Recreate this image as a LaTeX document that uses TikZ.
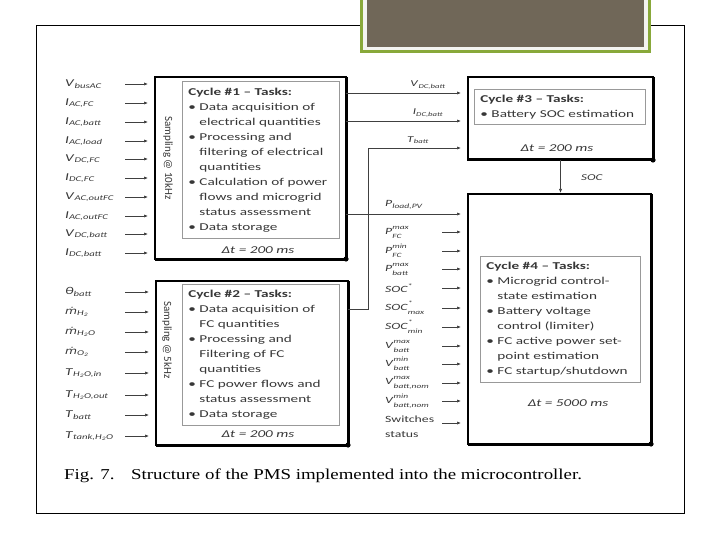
\documentclass[tikz,border=0pt]{standalone}
\usepackage{fontspec}
\setmainfont{Carlito}[FakeStretch=1.45]
\newfontfamily\rotfont{Carlito}
\newfontfamily\capfont{Liberation Serif}[FakeStretch=1.25]
\newfontfamily\dvfont{DejaVu Sans}[FakeStretch=1.3]
\usetikzlibrary{arrows.meta,positioning,calc}
\definecolor{slidebrown}{RGB}{112,103,88}
\definecolor{slidegreen}{RGB}{136,168,58}
\definecolor{slidegap}{RGB}{243,243,240}
\definecolor{inkgray}{RGB}{55,55,55}
% signal names
\newcommand\sig[2]{\textit{#1}\textsubscript{\itshape #2}}
\newcommand\sigud[3]{\textit{#1}\makebox[0pt][l]{\fontsize{6.5}{7}\selectfont\itshape\raisebox{0.78em}{#2}}%
  \raisebox{-0.42em}{\fontsize{6.5}{7}\selectfont\itshape #3}}
\newcommand\mdot{{\dvfont\fontsize{9.5}{12}\selectfont\itshape ṁ}}
\newcommand\tnl{\\\hphantom{\textbullet\ }}

\begin{document}
\begin{tikzpicture}[x=1pt,y=-1pt,
  cycbox/.style={draw=black, line width=2pt, anchor=north west, inner sep=0pt, outer sep=0pt},
  taskbox/.style={draw=black!40, line width=0.8pt, fill=white, anchor=north west, align=left,
    inner xsep=6pt, inner ysep=0pt, font=\fontsize{10.5}{15}\selectfont, text=inkgray},
  dtlbl/.style={font=\fontsize{10.5}{12}\selectfont\itshape, text=inkgray},
  samp/.style={rotate=-90, font=\rotfont\fontsize{11}{13}\selectfont, text=inkgray},
  sig/.style={anchor=west, inner sep=0pt, font=\fontsize{10.5}{12}\selectfont, text=inkgray},
  smsig/.style={anchor=west, inner sep=0pt, font=\fontsize{9.5}{15}\selectfont, text=inkgray},
  tinysig/.style={inner sep=0pt, font=\fontsize{9}{11}\selectfont, text=inkgray},
  inarr/.style={-{Latex[length=4pt,width=3.2pt]}, line width=0.7pt, black!75, shorten >=7pt}]
\useasboundingbox (0,0) rectangle (720,540);
% slide frame and title bar
\draw[line width=1pt] (36,26) rectangle (684,513);
\fill[slidegap] (361,0) rectangle (649,52);
\draw[slidegreen, line width=3pt] (361,0) -- (361,52) -- (649,52) -- (649,0);
\fill[slidebrown] (367,0) rectangle (644,47);

% cycle boxes
\node[cycbox, minimum width=191pt, minimum height=182pt] (cyc1) at (155,77) {};
\node[cycbox, minimum width=192pt, minimum height=164pt] (cyc2) at (156,281) {};
\node[cycbox, minimum width=185pt, minimum height=83pt] (cyc3) at (468,77) {};
\node[cycbox, minimum width=183pt, minimum height=250pt] (cyc4) at (468,194) {};
\foreach \c in {cyc1,cyc2,cyc3,cyc4} {
  \draw[line width=3pt] (\c.north east) -- (\c.south east) -- (\c.south west);
  \fill (\c.south east) circle (2.6pt);
}

% task lists
\node[taskbox, text width=145pt, minimum height=157pt] (task1) at (182,81) {%
  \textbf{Cycle \#1 -- Tasks:}\\
  \textbullet\ Data acquisition of\tnl electrical quantities\\
  \textbullet\ Processing and\tnl filtering of electrical\tnl quantities\\
  \textbullet\ Calculation of power\tnl flows and microgrid\tnl status assessment\\
  \textbullet\ Data storage};
\node[taskbox, text width=145pt, minimum height=141pt] (task2) at (182,284) {%
  \textbf{Cycle \#2 -- Tasks:}\\
  \textbullet\ Data acquisition of\tnl FC quantities\\
  \textbullet\ Processing and\tnl Filtering of FC\tnl quantities\\
  \textbullet\ FC power flows and\tnl status assessment\\
  \textbullet\ Data storage};
\node[taskbox, text width=159pt, minimum height=35pt] (task3) at (474,89) {%
  \textbf{Cycle \#3 -- Tasks:}\\
  \textbullet\ Battery SOC estimation};
\node[taskbox, text width=148pt, minimum height=126pt] (task4) at (480,256) {%
  \textbf{Cycle \#4 -- Tasks:}\\
  \textbullet\ Microgrid control-\tnl state estimation\\
  \textbullet\ Battery voltage\tnl control (limiter)\\
  \textbullet\ FC active power set-\tnl point estimation\\
  \textbullet\ FC startup/shutdown};

\node[dtlbl] (dt1) at (258,250) {Δt = 200 ms};
\node[dtlbl] (dt2) at (258,434) {Δt = 200 ms};
\node[dtlbl] (dt3) at (557,148) {Δt = 200 ms};
\node[dtlbl] (dt4) at (568,403) {Δt = 5000 ms};
\node[samp] (samp1) at (168,158) {Sampling @ 10kHz};
\node[samp] (samp2) at (167,340) {Sampling @ 5kHz};

% inputs of cycle 1
\foreach \y/\lbl [count=\i] in {84/{\sig{V}{busAC}}, 103/{\sig{I}{AC,FC}}, 122/{\sig{I}{AC,batt}},
    141/{\sig{I}{AC,load}}, 159/{\sig{V}{DC,FC}}, 178/{\sig{I}{DC,FC}}, 197/{\sig{V}{AC,outFC}},
    216/{\sig{I}{AC,outFC}}, 234/{\sig{V}{DC,batt}}, 253/{\sig{I}{DC,batt}}} {
  \node[sig] (ina\i) at (65,\y) {\lbl};
  \coordinate (pa\i) at (125,\y);
  \draw[inarr] (pa\i) -- (pa\i -| cyc1.west);
}
% inputs of cycle 2
\foreach \y/\lbl [count=\i] in {292/{\textit{θ}\textsubscript{\itshape batt}},
    312/{\mdot\textsubscript{\itshape H\textsubscript{2}}}, 332/{\mdot\textsubscript{\itshape H\textsubscript{2}O}},
    352/{\mdot\textsubscript{\itshape O\textsubscript{2}}}, 373/{\sig{T}{H\textsubscript{2}O,in}},
    395/{\sig{T}{H\textsubscript{2}O,out}}, 415/{\sig{T}{batt}}, 436/{\sig{T}{tank,H\textsubscript{2}O}}} {
  \node[sig] (inb\i) at (65,\y) {\lbl};
  \coordinate (pb\i) at (125,\y);
  \draw[inarr] (pb\i) -- (pb\i -| cyc2.west);
}

% cycle 1/2 -> cycle 3
\coordinate (ov) at (346,93);
\coordinate (oi) at (346,121);
\coordinate (tbo) at (348,309);
\coordinate (tbk) at (368,148);
\draw[inarr] (ov) -- (ov -| cyc3.west);
\draw[inarr] (oi) -- (oi -| cyc3.west);
\draw[inarr] (tbo) -| (tbk) -- (tbk -| cyc3.west);
\node[tinysig] (lv) at (428,85) {\sig{V}{DC,batt}};
\node[tinysig] (li) at (428,113) {\sig{I}{DC,batt}};
\node[tinysig] (lt) at (418,140) {\sig{T}{batt}};

% cycle 3 -> cycle 4
\draw[inarr, shorten >=1pt] (cyc3.south) -- (cyc3.south |- cyc4.north);
\node[tinysig] (lsoc) at (592,178) {\textit{SOC}};

% inputs of cycle 4
\coordinate (plo) at (346,214);
\draw[inarr] (plo) -- (plo -| cyc4.west);
\node[smsig] (lpl) at (385,205) {\sig{P}{load,PV}};
\foreach \y/\lbl [count=\i] in {232/{\sigud{P}{max}{FC}}, 251/{\sigud{P}{min}{FC}}, 269/{\sigud{P}{max}{batt}},
    288/{\textit{SOC}\textsuperscript{*}}, 308/{\sigud{SOC}{*}{max}}, 327/{\sigud{SOC}{*}{min}},
    346/{\sigud{V}{max}{batt}}, 364/{\sigud{V}{min}{batt}}, 383/{\sigud{V}{max}{batt,nom}},
    401/{\sigud{V}{min}{batt,nom}}} {
  \node[smsig] (ind\i) at (385,\y) {\lbl};
  \coordinate (pd\i) at (442,\y);
  \draw[inarr] (pd\i) -- (pd\i -| cyc4.west);
}
\node[smsig, anchor=north west, align=left] (insw) at (385,416) {Switches\\status};
\coordinate (psw) at (442,423);
\draw[inarr] (psw) -- (psw -| cyc4.west);

% caption
\node[anchor=west, inner sep=0pt, font=\capfont\fontsize{15.1}{18}\selectfont] (cap) at (64,476)
  {Fig. 7.\hspace{1.1em}Structure of the PMS implemented into the microcontroller.};
\end{tikzpicture}
\end{document}
